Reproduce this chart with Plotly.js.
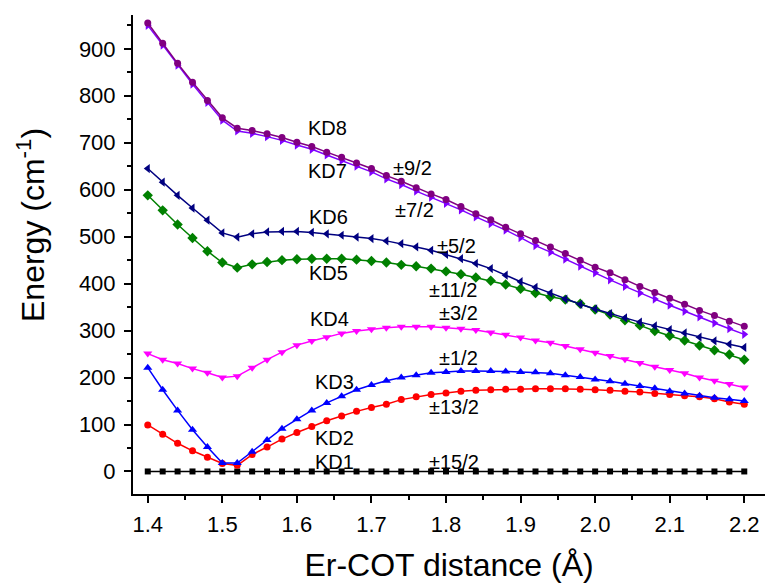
<!DOCTYPE html>
<html>
<head>
<meta charset="utf-8">
<script src="https://cdn.plot.ly/plotly-3.0.1.min.js"></script>
<style>html,body{margin:0;padding:0;background:#fff;}#chart{width:766px;height:583px;}</style>
</head>
<body>
<div id="chart"></div>
<script>
// Er-COT distance (Å)
const distance = [1.40,1.42,1.44,1.46,1.48,1.50,1.52,1.54,1.56,1.58,1.60,1.62,1.64,1.66,1.68,1.70,1.72,1.74,1.76,1.78,1.80,
                  1.82,1.84,1.86,1.88,1.90,1.92,1.94,1.96,1.98,2.00,2.02,2.04,2.06,2.08,2.10,2.12,2.14,2.16,2.18,2.20];

// Energies (cm-1) of the Kramers doublets
const KD1 = [0,0,0,0,0,0,0,0,0,0,0,0,0,0,0,0,0,0,0,0,0,0,0,0,0,0,0,0,0,0,0,0,0,0,0,0,0,0,0,0,0];
const KD2 = [99,79,60,44,30,17,13,36,52,69,83,96,108,118,128,136,143,153,159,164,167,
             171,173,174,175,175,176,176,176,175,174,173,171,169,166,164,161,159,155,148,143];
const KD3 = [221,174,130,89,52,18,18,42,67,91,111,130,146,160,174,184,193,200,205,210,212,
             214,214,214,213,212,211,209,205,201,196,192,187,182,177,171,166,161,157,154,150];
const KD4 = [251,238,230,219,210,200,203,221,238,254,269,278,286,294,299,303,306,308,308,308,306,
             304,301,296,291,285,279,274,267,260,253,246,239,231,223,216,209,200,193,186,179];
const KD5 = [588,556,526,497,469,445,434,441,446,450,452,453,453,453,451,448,445,440,437,432,426,
             420,413,406,398,389,380,372,366,357,345,334,322,311,299,289,279,268,258,249,238];
const KD6 = [645,616,588,561,535,508,499,506,510,511,511,509,506,503,499,496,491,485,478,471,462,
             453,443,432,418,404,392,380,367,356,346,336,327,318,310,302,295,286,278,271,264];
const KD7 = [950,908,865,825,786,748,725,720,713,705,695,686,674,662,650,638,623,611,597,584,571,
             557,542,528,514,498,481,467,452,437,423,408,394,380,367,354,341,329,316,304,292];
const KD8 = [955,912,869,829,790,753,731,726,719,711,701,692,680,669,657,645,630,618,604,591,579,
             564,549,536,520,506,492,478,464,450,435,423,408,394,381,369,356,343,332,320,309];

const seriesNames = ['KD1','KD2','KD3','KD4','KD5','KD6','KD7','KD8'];
const seriesData = [KD1,KD2,KD3,KD4,KD5,KD6,KD7,KD8];
const colors = ['#000000','#FF0000','#0000FF','#FF00FF','#008000','#000080','#8000FF','#800080'];
const symbols = ['square','circle','triangle-up','triangle-down','diamond','triangle-left','triangle-right','circle'];
const sizes = [6,7,8,8,8,8,8,7];

// state labels
const kdLabels = ['KD8','KD7','KD6','KD5','KD4','KD3','KD2','KD1'];
const kdLabelX = [1.612,1.612,1.6136,1.6136,1.615,1.6216,1.6216,1.6216];
const kdLabelY = [731,640,542,423,325,190,71,20];
const mjLabels = ['±9/2','±7/2','±5/2','±11/2','±3/2','±1/2','±13/2','±15/2'];
const mjLabelX = [1.7262,1.729,1.7852,1.7745,1.7879,1.7879,1.7745,1.7745];
const mjLabelY = [646,557,480,386,337,242,137,20];

const FONT = 'Liberation Sans, Arial, sans-serif';

const traces = seriesData.map((ys, i) => ({
  x: distance,
  y: ys,
  name: seriesNames[i],
  type: 'scatter',
  mode: 'lines+markers',
  line: {color: colors[i], width: 1.5},
  marker: {color: colors[i], symbol: symbols[i], size: sizes[i]},
  showlegend: false
}));

const annotations = [];
kdLabels.forEach((t, i) => annotations.push({
  x: kdLabelX[i], y: kdLabelY[i], xref: 'x', yref: 'y', text: t, showarrow: false,
  xanchor: 'left', yanchor: 'middle', font: {family: FONT, size: 20, color: '#000'}
}));
mjLabels.forEach((t, i) => annotations.push({
  x: mjLabelX[i], y: mjLabelY[i], xref: 'x', yref: 'y', text: t, showarrow: false,
  xanchor: 'left', yanchor: 'middle', font: {family: FONT, size: 20, color: '#000'}
}));
annotations.push({
  x: -0.1614, y: 0.5616, xref: 'paper', yref: 'paper', text: 'Energy (cm<sup>-1</sup>)',
  showarrow: false, textangle: -90, xanchor: 'center', yanchor: 'middle',
  font: {family: FONT, size: 32, color: '#000'}
});

const layout = {
  width: 766, height: 583,
  margin: {l: 133, r: 1, t: 15, b: 89},
  paper_bgcolor: '#fff', plot_bgcolor: '#fff',
  font: {family: FONT, color: '#000'},
  xaxis: {
    range: [1.3802, 2.2278], tick0: 1.4, dtick: 0.1, tickformat: '.1f',
    showline: true, linecolor: '#000', linewidth: 2, mirror: false,
    ticks: 'outside', ticklen: 7, tickwidth: 2, tickcolor: '#000',
    minor: {dtick: 0.05, tick0: 1.4, ticks: 'outside', ticklen: 4, tickwidth: 2, tickcolor: '#000'},
    showgrid: false, zeroline: false,
    tickfont: {family: FONT, size: 22, color: '#000'},
    ticklabelstandoff: 3,
    title: {text: 'Er-COT distance (Å)', font: {family: FONT, size: 32, color: '#000'}, standoff: 17}
  },
  yaxis: {
    range: [-48, 972], tick0: 0, dtick: 100,
    showline: true, linecolor: '#000', linewidth: 2, mirror: false,
    ticks: 'outside', ticklen: 7, tickwidth: 2, tickcolor: '#000',
    minor: {dtick: 50, tick0: 0, ticks: 'outside', ticklen: 4, tickwidth: 2, tickcolor: '#000'},
    showgrid: false, zeroline: false,
    tickfont: {family: FONT, size: 22, color: '#000'},
    ticklabelstandoff: 4
  },
  annotations: annotations
};

Plotly.newPlot('chart', traces, layout, {displayModeBar: false, staticPlot: true});
</script>
</body>
</html>
